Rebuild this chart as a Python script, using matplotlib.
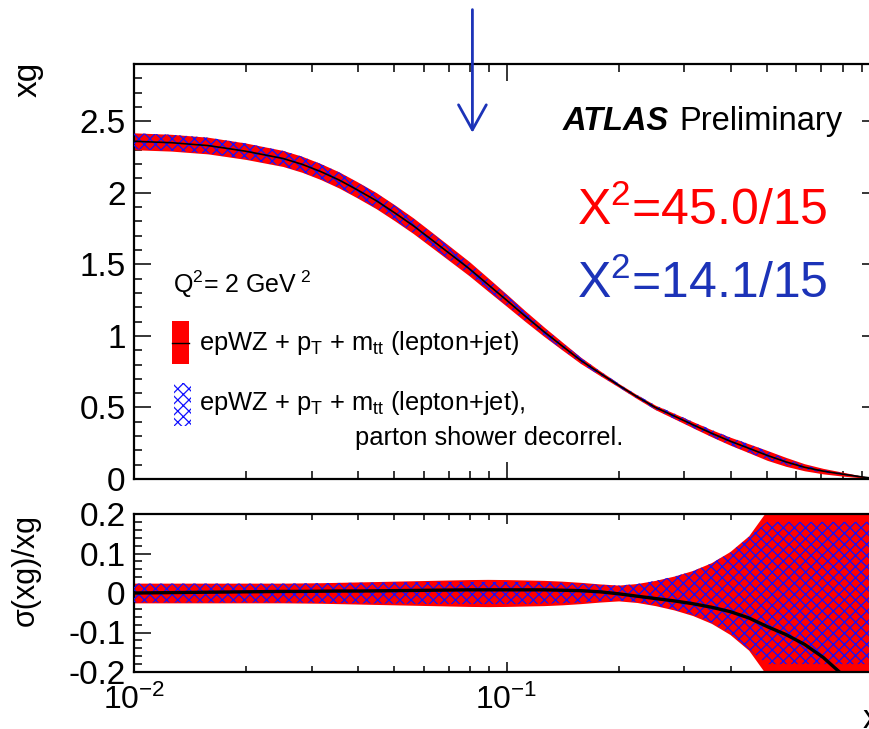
import numpy as np
import matplotlib
matplotlib.use('Agg')
import matplotlib.pyplot as plt
from matplotlib.patches import Rectangle
from matplotlib.ticker import FixedLocator, MultipleLocator, FuncFormatter, NullFormatter

plt.rcParams['font.family'] = ['Liberation Sans', 'DejaVu Sans']
plt.rcParams['mathtext.fontset'] = 'custom'
plt.rcParams['mathtext.rm'] = 'Liberation Sans'
plt.rcParams['mathtext.it'] = 'Liberation Sans:italic'
plt.rcParams['mathtext.bf'] = 'Liberation Sans:bold'
plt.rcParams['mathtext.sf'] = 'Liberation Sans'
plt.rcParams['hatch.linewidth'] = 0.9

# ---------------- data ----------------
x_vals = [0.01, 0.0112, 0.0126, 0.0141, 0.0158, 0.0178, 0.02, 0.0224, 0.0251, 0.0282,
          0.0316, 0.0355, 0.0398, 0.0447, 0.0501, 0.0562, 0.0631, 0.0708, 0.0794, 0.0891,
          0.1, 0.112, 0.126, 0.141, 0.158, 0.178, 0.2, 0.224, 0.251, 0.282,
          0.316, 0.355, 0.398, 0.447, 0.501, 0.562, 0.631, 0.708, 0.794, 0.891, 1.0]
xg_central = [2.36, 2.355, 2.35, 2.34, 2.33, 2.31, 2.29, 2.265, 2.24, 2.20,
              2.15, 2.09, 2.02, 1.945, 1.86, 1.77, 1.67, 1.57, 1.47, 1.36,
              1.25, 1.14, 1.03, 0.93, 0.83, 0.74, 0.655, 0.575, 0.50, 0.44,
              0.38, 0.32, 0.265, 0.215, 0.165, 0.12, 0.082, 0.055, 0.035, 0.016, 0.0]
rel_err_red = [0.025, 0.025, 0.025, 0.025, 0.025, 0.025, 0.025, 0.025, 0.025, 0.0255,
               0.026, 0.027, 0.028, 0.029, 0.030, 0.031, 0.032, 0.033, 0.034, 0.0345,
               0.034, 0.033, 0.032, 0.030, 0.027, 0.023, 0.020, 0.024, 0.032, 0.043,
               0.057, 0.077, 0.105, 0.145, 0.21, 0.26, 0.30, 0.35, 0.40, 0.45, 0.50]
rel_err_blue = [0.024, 0.024, 0.024, 0.024, 0.024, 0.024, 0.024, 0.024, 0.024, 0.0245,
                0.025, 0.0255, 0.026, 0.0265, 0.027, 0.0275, 0.028, 0.028, 0.028, 0.028,
                0.028, 0.028, 0.027, 0.026, 0.024, 0.021, 0.019, 0.023, 0.031, 0.042,
                0.055, 0.075, 0.102, 0.142, 0.18, 0.18, 0.18, 0.18, 0.18, 0.18, 0.18]
ratio_line = [0.0, 0.0005, 0.001, 0.0015, 0.002, 0.0025, 0.003, 0.0035, 0.004, 0.004,
              0.0045, 0.005, 0.005, 0.0055, 0.006, 0.0065, 0.007, 0.0075, 0.008, 0.008,
              0.008, 0.008, 0.008, 0.007, 0.006, 0.003, -0.002, -0.008, -0.014, -0.020,
              -0.027, -0.036, -0.047, -0.063, -0.085, -0.105, -0.13, -0.163, -0.205, -0.27, -0.40]

chi2_red = "45.0/15"
chi2_blue = "14.1/15"
arrow_x = 0.081
legend_label_1 = r'epWZ + p$_{\mathregular{T}}$ + m$_{\mathregular{tt}}$ (lepton+jet)'
legend_label_2a = r'epWZ + p$_{\mathregular{T}}$ + m$_{\mathregular{tt}}$ (lepton+jet),'
legend_label_2b = 'parton shower decorrel.'

x = np.array(x_vals)
xg = np.array(xg_central)
er = np.array(rel_err_red)
eb = np.array(rel_err_blue)
rl = np.array(ratio_line)

RED = '#ff0000'
HBLUE = '#1010ff'
DBLUE = '#1c33b8'
HATCH = 'xxx'

W, H = 870, 729
fig = plt.figure(figsize=(W / 100, H / 100), dpi=100)
X0, X1 = 134, 879


def rect(top, bottom):
    return [X0 / W, 1 - bottom / H, (X1 - X0) / W, (bottom - top) / H]


ax1 = fig.add_axes(rect(64, 479))
ax2 = fig.add_axes(rect(514, 672))

# ---------------- top panel ----------------
ax1.fill_between(x, xg * (1 - er), xg * (1 + er), color=RED, lw=0, zorder=2)
ax1.fill_between(x, xg * (1 - eb), xg * (1 + eb), facecolor='none', edgecolor=HBLUE,
                 hatch=HATCH, lw=0, zorder=3)
ax1.plot(x, xg, color='black', lw=1.2, zorder=4)

# ---------------- bottom panel ----------------
ax2.fill_between(x, -er, er, color=RED, lw=0, zorder=2)
ax2.fill_between(x, -eb, eb, facecolor='none', edgecolor=HBLUE, hatch=HATCH, lw=0, zorder=3)
ax2.plot(x, rl, color='black', lw=2.4, zorder=4)

for ax in (ax1, ax2):
    ax.set_xscale('log')
    ax.set_xlim(0.01, 1.0)
    ax.xaxis.set_major_locator(FixedLocator([0.01, 0.1, 1.0]))
    ax.xaxis.set_minor_locator(FixedLocator([m * d for d in (0.01, 0.1) for m in range(2, 10)]))
    for s in ax.spines.values():
        s.set_linewidth(1.6)
    ax.tick_params(which='both', direction='in', top=True, right=True, width=1.1)

ax1.set_ylim(0, 2.9)
ax1.yaxis.set_major_locator(MultipleLocator(0.5))
ax1.yaxis.set_minor_locator(MultipleLocator(0.1))
ax1.tick_params(which='major', length=12)
ax1.tick_params(which='minor', length=6)
ax1.tick_params(axis='x', labelbottom=False)
ax1.tick_params(axis='y', labelsize=24, pad=6)
ax1.yaxis.set_major_formatter(FuncFormatter(lambda v, p: f'{round(v, 3):g}'))

ax2.set_ylim(-0.2, 0.2)
ax2.yaxis.set_major_locator(MultipleLocator(0.1))
ax2.yaxis.set_minor_locator(MultipleLocator(0.02))
ax2.tick_params(axis='y', which='major', length=12)
ax2.tick_params(axis='y', which='minor', length=6)
ax2.tick_params(axis='x', which='major', length=7)
ax2.tick_params(axis='x', which='minor', length=4)
ax2.tick_params(axis='y', labelsize=24, pad=6)
ax2.tick_params(axis='x', labelsize=23, pad=9)


def yfmt(v, p):
    r = round(v, 3)
    if r == 0:
        return '0'
    return f'{r:g}'


def xfmt(v, p):
    e = int(round(np.log10(v)))
    if e >= 0:
        return ''
    return r'$\mathregular{10^{%d}}$' % e


ax2.yaxis.set_major_formatter(FuncFormatter(yfmt))
ax2.xaxis.set_major_formatter(FuncFormatter(xfmt))
ax2.xaxis.set_minor_formatter(NullFormatter())

# axis titles
fig.text(X1 / W, 1 / H, 'x', ha='right', va='baseline', fontsize=24)
fig.text(28 / W, 1 - 62 / H, 'xg', rotation=90, ha='center', va='top', fontsize=24)
fig.text(26 / W, 1 - 514 / H, 'σ(xg)/xg', rotation=90, ha='center', va='top', fontsize=22)


def af(px, py):
    return ((px - X0) / (X1 - X0), (479 - py) / (479 - 64))


# ATLAS label
ax1.text(*af(563, 130), 'ATLAS', transform=ax1.transAxes, fontsize=23.5,
         fontweight='bold', fontstyle='italic', ha='left', va='baseline')
ax1.text(*af(842, 130), 'Preliminary', transform=ax1.transAxes, fontsize=23.5,
         ha='right', va='baseline')

# chi2 labels
ax1.text(*af(577, 225), r'X$^{\mathregular{2}}$=' + chi2_red, transform=ax1.transAxes,
         fontsize=36, color=RED, ha='left', va='baseline')
ax1.text(*af(577, 298), r'X$^{\mathregular{2}}$=' + chi2_blue, transform=ax1.transAxes,
         fontsize=36, color=DBLUE, ha='left', va='baseline')

# Q2 label
ax1.text(*af(173, 293), r'Q$^{\mathregular{2}}$= 2 GeV$^{\mathregular{\ 2}}$',
         transform=ax1.transAxes, fontsize=18, ha='left', va='baseline')

# legend (manual)
(lx0, ly0) = af(172, 364)
(lx1, ly1) = af(189, 321)
ax1.add_patch(Rectangle((lx0, ly0), lx1 - lx0, ly1 - ly0, transform=ax1.transAxes,
                        facecolor=RED, lw=0, zorder=5))
ax1.plot([lx0, lx1], [(ly0 + ly1) / 2] * 2, transform=ax1.transAxes, color='black',
         lw=1.0, zorder=6)
ax1.text(*af(199, 350), legend_label_1, transform=ax1.transAxes, fontsize=18.4,
         ha='left', va='baseline')

(bx0, by0) = af(174, 426)
(bx1, by1) = af(191, 383)
ax1.add_patch(Rectangle((bx0, by0), bx1 - bx0, by1 - by0, transform=ax1.transAxes,
                        facecolor='none', edgecolor=HBLUE, hatch=HATCH, lw=0, zorder=5))
ax1.text(*af(199, 410), legend_label_2a, transform=ax1.transAxes, fontsize=18.4,
         ha='left', va='baseline')
ax1.text(*af(355, 445), legend_label_2b, transform=ax1.transAxes, fontsize=18.4,
         ha='left', va='baseline')

# arrow
ax1.annotate('', xy=(arrow_x, 2.42), xytext=(arrow_x, 3.28), xycoords='data',
             textcoords='data', annotation_clip=False,
             arrowprops=dict(arrowstyle='->, head_length=0.9, head_width=0.5',
                             color=DBLUE, lw=2.0, mutation_scale=20,
                             shrinkA=0, shrinkB=0))

fig.savefig('out.png', dpi=100)
